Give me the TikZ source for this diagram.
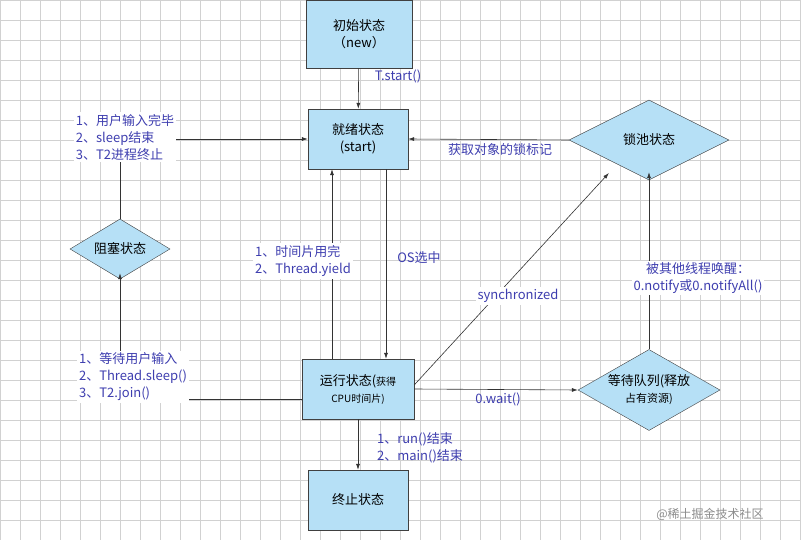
\documentclass[tikz,border=0pt]{standalone}
\usepackage{fontspec}
\newfontfamily\cjk{Noto Sans CJK SC}
\usetikzlibrary{shapes.geometric,arrows.meta}
\definecolor{boxfill}{RGB}{182,224,246}
\definecolor{lbl}{RGB}{62,62,175}
\tikzset{
 x=1pt,y=-1pt,
 every node/.style={font=\cjk\fontsize{13}{17}\selectfont},
 st/.style={draw=black!75,fill=boxfill,minimum width=100pt,minimum height=60pt,align=center,inner sep=2pt},
 dia/.style={draw=black!75,fill=boxfill,diamond,aspect=#1,inner sep=0pt,align=center},
 lb/.style={text=lbl,fill=white,align=left,inner sep=2pt},
 ar/.style={draw=black!80,line width=0.6pt,-{Latex[length=6pt,width=4pt]}},
 ln/.style={draw=black!80,line width=0.6pt},
 gr/.style={black!18,line width=0.5pt},
}
\begin{document}
\begin{tikzpicture}
\useasboundingbox (0,0) rectangle (801,540);
\fill[white] (0,0) rectangle (801,540);
\foreach \i in {0,20,...,800} {\draw[gr] (\i,0) -- (\i,540);}
\foreach \j in {0,20,...,540} {\draw[gr] (0,\j) -- (801,\j);}
\node[st,minimum width=106pt,minimum height=68pt] (new) at (359,34) {初始状态\\（new）};
\node[st] (ready) at (358,139) {就绪状态\\(start)};
\node[st,minimum width=112pt] (run) at (358,389) {运行状态(\fontsize{10}{12}\selectfont 获得\\\fontsize{10}{12}\selectfont CPU时间片)};
\node[st] (end) at (358,500) {终止状态};
\node[dia=2,minimum width=160pt,minimum height=80pt] (lock) at (649,140) {锁池状态};
\node[dia=1.7,minimum width=100pt,minimum height=60pt] (blk) at (120,249) {阻塞状态};
\node[dia=1.75,minimum width=142pt,minimum height=81pt] (wait) at (649,390) {等待队列(释放\\\fontsize{11}{13}\selectfont 占有资源)};

\node[lb] (t1) at (125,137) {1、用户输入完毕\\2、sleep结束\\3、T2进程终止};
\node[lb] (t2) at (133,377) {1、等待用户输入\\2、Thread.sleep()\\3、T2.join()};
\node[lb,fill=none] (tstart) at (398,76) {T.start()};
\node[lb,fill=none] (olock) at (500,150) {获取对象的锁标记};
\node[lb,fill=none] (os) at (419,258) {OS选中};
\node[lb,fill=none] (owait) at (498,399) {0.wait()};
\node[lb,fill=none] (oend) at (420,448) {1、run()结束\\2、main()结束};
\node[lb,fill=none,text=black!45,font=\cjk\fontsize{12}{14}\selectfont] (wm) at (710,514) {@稀土掘金技术社区};

\draw[ar] (new) -- (ready);
\draw[ar] (t1.east |- ready.west) -- (ready.west);
\draw[ln] (t1.south -| blk.north) -- (blk.north);
\draw[ar] (t2.north -| blk.south) -- ([yshift=6pt]blk.south);
\draw[ln] (t2.east |- 0,399) -- (run.west |- 0,399);
\draw[ar] (run.north -| 332,0) -- (ready.south -| 332,0);
\node[lb] (tyield) at (303,261) {1、时间片用完\\2、Thread.yield};
\draw[ar] (ready.south -| 386,0) -- (run.north -| 386,0);
\draw[ar] (lock.west) -- (ready.east);
\draw[ar] (run.east |- 0,385) -- ([yshift=6pt]lock.south west |- 0,179) coordinate (lk1);
\node[lb] (sync) at (518,296) {synchronized};
\draw[ar] (wait.north) -- ([yshift=8pt]lock.south);
\node[lb,align=center] (notify) at (698,278) {被其他线程唤醒：\\0.notify或0.notifyAll()};
\draw[ar] (run.east |- 0,389) -- (wait.west);
\draw[ar] (run.south) -- (end.north);
\end{tikzpicture}
\end{document}
